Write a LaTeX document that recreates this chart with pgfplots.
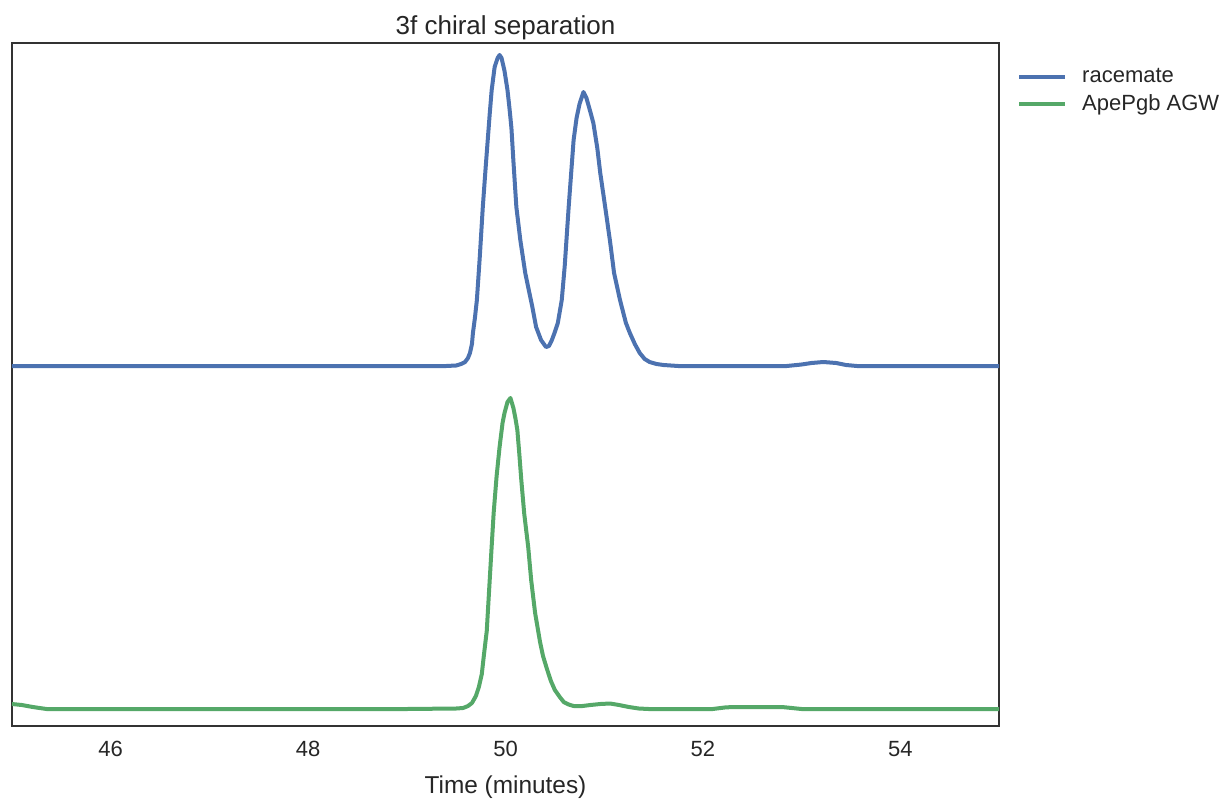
\documentclass[border=0pt]{standalone}
\usepackage{pgfplots}
\pgfplotsset{compat=1.18}
\usepackage{fontspec}
\setmainfont{Liberation Sans}

\definecolor{sbblue}{HTML}{4C72B0}
\definecolor{sbgreen}{HTML}{55A868}
\definecolor{sbtext}{HTML}{262626}
\definecolor{sbspine}{HTML}{333333}

% detector traces (time in minutes, offset signal in arbitrary units)
\pgfplotstableread{
t v
45.00 360
47.00 360
49.00 360
49.40 360
49.50 360.5
49.55 362
49.59 364
49.62 368
49.64 373
49.66 382
49.67 393
49.69 408
49.71 426
49.74 470
49.77 519
49.80 560
49.82 586
49.84 612
49.86 636
49.89 659
49.92 668
49.94 671
49.96 668
49.99 655
50.02 636
50.04 618
50.06 598
50.08 565
50.11 519
50.15 486
50.20 453
50.24 434
50.27 420
50.31 399
50.36 386
50.41 379
50.44 380
50.47 386
50.50 394
50.53 403
50.57 426
50.60 460
50.64 519
50.69 586
50.72 608
50.75 622
50.79 634
50.82 628
50.86 614
50.89 603
50.93 578
50.96 553
51.01 519
51.06 484
51.10 453
51.16 426
51.22 403
51.26 393
51.31 382
51.36 373
51.41 367
51.46 364
51.53 362
51.60 361
51.75 360
52.85 360
53.00 361.5
53.10 363
53.22 364
53.35 363
53.45 361
53.56 360
55.00 360
}\racemate

\pgfplotstableread{
t v
45.00 22
45.10 21
45.21 19
45.35 17
49.00 17
49.50 17.5
49.57 18
49.62 20
49.66 23
49.70 30
49.73 39
49.76 52
49.78 70
49.81 95
49.84 146
49.86 180
49.88 213
49.91 250
49.94 279
49.97 303
49.99 313
50.02 324
50.05 328
50.08 318
50.10 308
50.12 296
50.14 272
50.16 246
50.19 212
50.23 179
50.26 146
50.30 113
50.35 84
50.38 70
50.42 57
50.46 45
50.50 36
50.55 29
50.59 24
50.64 21.5
50.69 20
50.78 20
50.86 21
50.96 22
51.06 22.5
51.15 21
51.25 19
51.35 17.5
51.45 17
52.10 17
52.22 18.5
52.30 19
52.80 19
52.90 18
53.00 17
55.00 17
}\apepgb

\begin{document}
\begin{tikzpicture}
\useasboundingbox (-6pt,-36.5pt) rectangle (606.5pt,363pt);
\begin{axis}[
  at={(0,0)}, anchor=south west,
  scale only axis,
  width=493.5pt, height=341.5pt,
  xmin=45, xmax=55, ymin=0, ymax=683,
  xtick={46,48,50,52,54},
  ytick=\empty,
  major tick length=0pt,
  axis line style={sbspine, line width=1.3pt},
  tick label style={font=\fontsize{11}{13}\selectfont, text=sbtext},
  xticklabel style={yshift=-4pt},
  /pgf/number format/assume math mode=true,
  xlabel={Time (minutes)},
  xlabel style={font=\fontsize{12.2}{14}\selectfont, text=sbtext, yshift=-2.5pt},
  title={3f chiral separation},
  title style={font=\fontsize{13}{15}\selectfont, text=sbtext, yshift=-8pt},
  legend style={draw=none, fill=none, at={(1.014,0.975)}, anchor=north west,
    font=\fontsize{11}{13}\selectfont, text=sbtext,
    row sep=0.6pt, inner sep=2pt,
    /tikz/every odd column/.append style={column sep=5.5pt}},
  legend cell align=left,
  legend image code/.code={\draw[#1] (0pt,0pt) -- (23pt,0pt);},
]
\addplot[sbblue, line width=2pt, line join=round] table[x=t, y=v] {\racemate};
\addlegendentry{racemate}
\addplot[sbgreen, line width=2pt, line join=round] table[x=t, y=v] {\apepgb};
\addlegendentry{ApePgb AGW}
\end{axis}
\end{tikzpicture}
\end{document}
